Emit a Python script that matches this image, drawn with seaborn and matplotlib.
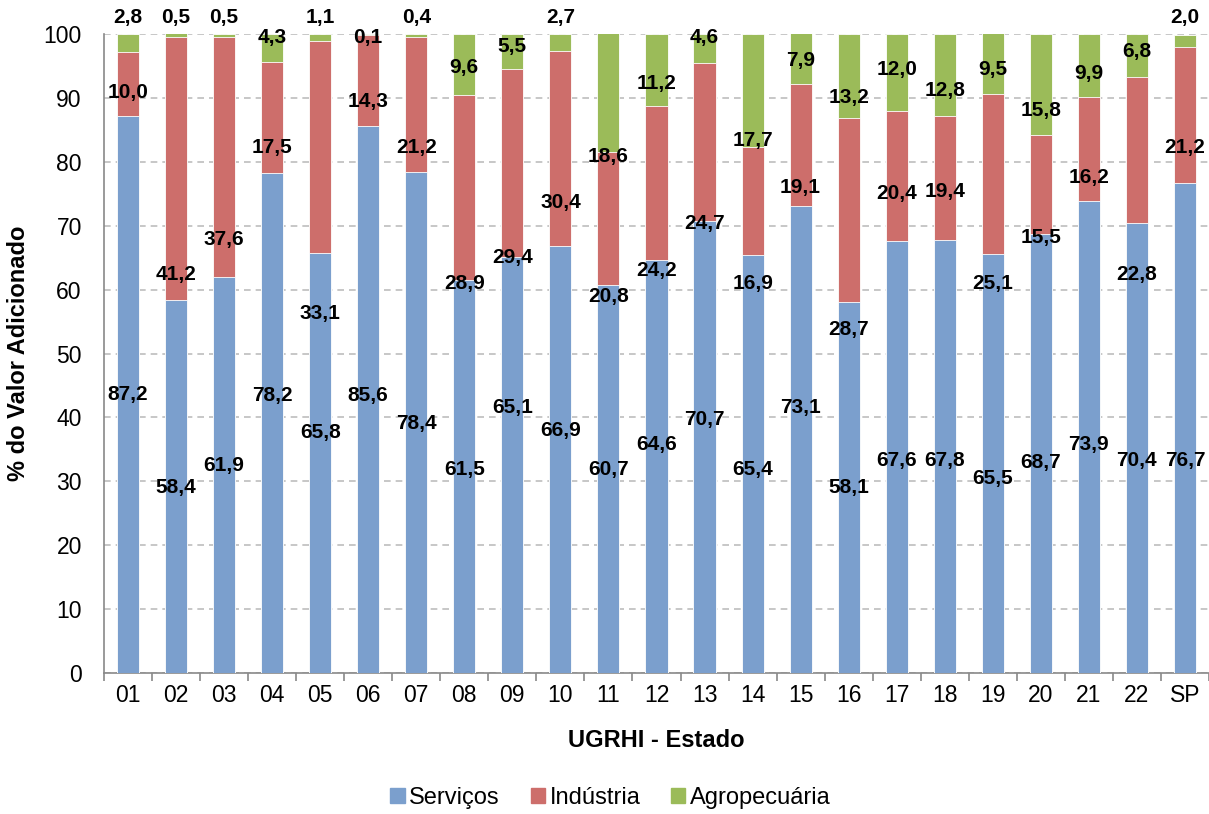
import numpy as np
import pandas as pd
import matplotlib
matplotlib.use("Agg")
import matplotlib.pyplot as plt
import seaborn as sns
from matplotlib.patches import Patch

sns.set_theme(style="white")
plt.rcParams["font.family"] = ["Liberation Sans", "DejaVu Sans"]
plt.rcParams["text.color"] = "black"

# Data: share of value added by sector per UGRHI and for the state (SP)
regions = ["01", "02", "03", "04", "05", "06", "07", "08", "09", "10", "11",
           "12", "13", "14", "15", "16", "17", "18", "19", "20", "21", "22", "SP"]
servicos = [87.2, 58.4, 61.9, 78.2, 65.8, 85.6, 78.4, 61.5, 65.1, 66.9, 60.7,
            64.6, 70.7, 65.4, 73.1, 58.1, 67.6, 67.8, 65.5, 68.7, 73.9, 70.4, 76.7]
industria = [10.0, 41.2, 37.6, 17.5, 33.1, 14.3, 21.2, 28.9, 29.4, 30.4, 20.8,
             24.2, 24.7, 16.9, 19.1, 28.7, 20.4, 19.4, 25.1, 15.5, 16.2, 22.8, 21.2]
agropecuaria = [2.8, 0.5, 0.5, 4.3, 1.1, 0.1, 0.4, 9.6, 5.5, 2.7, 18.6,
                11.2, 4.6, 17.7, 7.9, 13.2, 12.0, 12.8, 9.5, 15.8, 9.9, 6.8, 2.0]

# Vertical placement (in % units) of each value label
lbl_y_serv = [43.6, 29.0, 32.4, 43.5, 37.6, 43.5, 39.1, 31.8, 41.6, 38.0, 31.8,
              35.7, 39.6, 31.8, 41.5, 29.0, 33.3, 33.3, 30.5, 33.0, 35.7, 33.3, 33.3]
lbl_y_ind = [90.8, 62.4, 67.8, 82.2, 56.3, 89.4, 82.2, 61.0, 65.0, 73.7, 59.0,
             63.0, 70.3, 61.0, 76.0, 53.7, 75.0, 75.4, 61.0, 68.2, 77.5, 62.3, 82.2]
lbl_y_agr = [102.6, 102.6, 102.6, 99.5, 102.6, 99.5, 102.6, 94.7, 98.1, 102.6, 80.8,
             92.3, 99.5, 83.4, 95.9, 90.1, 94.4, 91.2, 94.5, 88.1, 93.9, 97.2, 102.6]

c_serv = "#7B9FCD"
c_ind = "#CD6E6B"
c_agr = "#9BBB59"

df = pd.DataFrame({"regiao": regions, "serv": servicos, "ind": industria, "agr": agropecuaria})
df["serv_ind"] = df["serv"] + df["ind"]
df["total"] = df["serv_ind"] + df["agr"]

fig = plt.figure(figsize=(12.09, 8.14), dpi=100)
ax = fig.add_axes([0.086, 0.1732, 0.914, 0.785])

bar_kw = dict(width=0.46, edgecolor="white", linewidth=0.6, saturation=1, zorder=3)
sns.barplot(data=df, x="regiao", y="total", color=c_agr, ax=ax, **bar_kw)
sns.barplot(data=df, x="regiao", y="serv_ind", color=c_ind, ax=ax, **bar_kw)
sns.barplot(data=df, x="regiao", y="serv", color=c_serv, ax=ax, **bar_kw)

def fmt(v):
    return f"{v:.1f}".replace(".", ",")

txt_kw = dict(ha="center", va="center", fontsize=15, fontweight="bold", color="black", zorder=5)
for i in range(len(regions)):
    ax.text(i, lbl_y_serv[i], fmt(servicos[i]), **txt_kw)
    ax.text(i, lbl_y_ind[i], fmt(industria[i]), **txt_kw)
    ax.text(i, lbl_y_agr[i], fmt(agropecuaria[i]), clip_on=False, **txt_kw)

ax.set_ylim(0, 100)
ax.set_xlim(-0.5, len(regions) - 0.5)
ax.set_yticks(np.arange(0, 101, 10))
ax.yaxis.grid(True, linestyle=(0, (4, 3)), color="#BEBEBE", linewidth=1.2, zorder=0)
ax.xaxis.grid(False)
ax.set_axisbelow(True)

for side in ["top", "right"]:
    ax.spines[side].set_visible(False)
for side in ["left", "bottom"]:
    ax.spines[side].set_color("#898989")
    ax.spines[side].set_linewidth(1.2)

ax.set_xticks(np.arange(-0.5, len(regions), 1.0), minor=True)
ax.tick_params(axis="x", which="major", length=0, labelsize=16.5, pad=8, labelcolor="black")
ax.tick_params(axis="x", which="minor", length=6, width=1.2, color="#898989", bottom=True)
ax.tick_params(axis="y", which="major", length=0, labelsize=16.5, pad=16, labelcolor="black")

ax.set_xlabel("UGRHI - Estado", fontsize=17, fontweight="bold", labelpad=16, color="black")
ax.set_ylabel("% do Valor Adicionado", fontsize=17, fontweight="bold", labelpad=10, color="black")

handles = [Patch(color=c_serv, label="Serviços"),
           Patch(color=c_ind, label="Indústria"),
           Patch(color=c_agr, label="Agropecuária")]
fig.legend(handles=handles, loc="lower center", bbox_to_anchor=(0.505, -0.02), ncol=3,
           frameon=False, fontsize=17, handlelength=0.6, handleheight=0.6,
           handletextpad=0.2, columnspacing=1.3, labelcolor="black")

fig.savefig("out.png", dpi=100)
